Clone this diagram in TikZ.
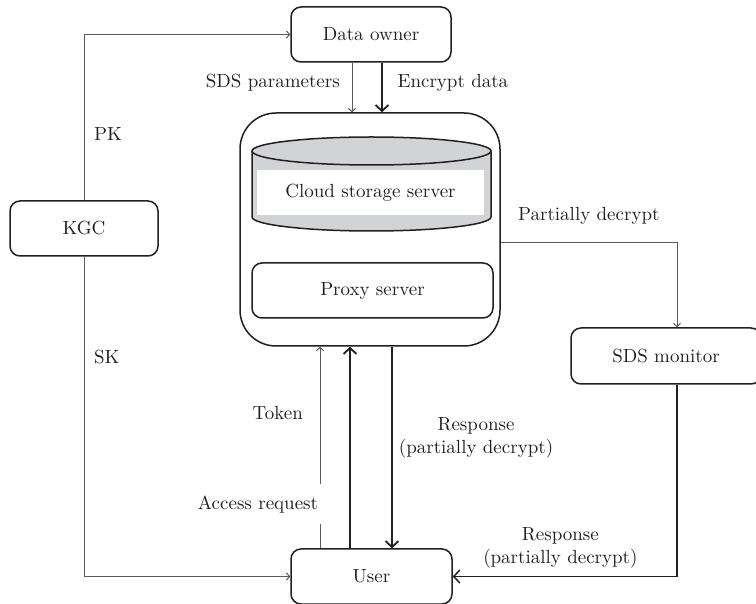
\documentclass[tikz,border=0pt]{standalone}
\usepackage{xcolor}
\usepackage{tikz}
\usetikzlibrary{arrows.meta,positioning}
\definecolor{ink}{HTML}{231F20}
\definecolor{thin}{HTML}{5A5B5D}
\definecolor{drum}{HTML}{D1D3D4}
\tikzset{
  box/.style={draw=ink, line width=0.75pt, rounded corners=5pt, text=ink,
    font=\fontsize{9.5}{11.5}\selectfont, minimum height=27.5pt},
  tline/.style={draw=thin, line width=0.5pt, -{Straight Barb[length=1.6pt,width=3.6pt]}},
  kline/.style={draw=ink, line width=0.9pt, -{Straight Barb[length=3pt,width=6.5pt]}},
  lbl/.style={text=ink, font=\fontsize{9.5}{11.5}\selectfont},
  mlbl/.style={lbl, align=center, inner sep=1pt}
}

\begin{document}
\begin{tikzpicture}[x=0.5pt,y=-0.5pt]
  \useasboundingbox (0,0) rectangle (756,604);

  \node[box, minimum width=80pt] (owner) at (371,34.5) {Data owner};
  \node[box, minimum width=74pt] (kgc) at (84,228.5) {KGC};
  \node[draw=ink, line width=0.75pt, rounded corners=18pt,
        minimum width=130pt, minimum height=116.5pt] (cloud) at (370,229.5) {};
  \node[box, minimum width=120.5pt] (proxy) at (372.5,290.5) {Proxy server};
  \node[box, minimum width=80.5pt] (user) at (371.5,576.5) {User};
  \node[box, minimum width=95pt, minimum height=28pt] (monitor) at (666,356) {SDS monitor};

  % storage drum
  \fill[drum] (371.5,217) ellipse [x radius=59.75pt, y radius=7pt];
  \fill[drum] (252,151) rectangle (491,217);
  \draw[ink, line width=0.75pt] (252,151) -- (252,217)
    arc[start angle=180, end angle=360, x radius=59.75pt, y radius=7pt] -- (491,151);
  \draw[ink, line width=0.75pt, fill=drum] (371.5,151) ellipse [x radius=59.75pt, y radius=7pt];
  \node[lbl, fill=white, minimum width=113.5pt, minimum height=22.5pt] (storage) at (370.5,192.5) {Cloud storage server};

  % keys
  \draw[tline] (kgc.north) |- node[lbl, right=1.5pt, pos=0.2] {PK} (owner.west);
  \draw[tline] (kgc.south) |- node[lbl, right=1.5pt, pos=0.157] {SK} (user.west);

  % owner to cloud
  \draw[tline] ([xshift=-9.5pt]owner.south) -- node[lbl, left=2.5pt, pos=0.4] {SDS parameters}
    ([xshift=-9.5pt]owner.south |- cloud.north);
  \draw[kline] ([xshift=5.5pt]owner.south) -- node[lbl, right=4pt, pos=0.4] {Encrypt data}
    ([xshift=5.5pt]owner.south |- cloud.north);

  % cloud to monitor to user
  \draw[tline] ([yshift=-6.75pt]cloud.east) -| node[lbl, above=5.5pt, pos=0.25] {Partially decrypt}
    ([xshift=5.5pt]monitor.north);
  \draw[kline, line width=0.75pt] ([xshift=5.5pt]monitor.south) |- node[mlbl, above=3pt, pos=0.76]
    {Response\\(partially decrypt)} (user.east);

  % user and proxy
  \draw[tline] ([xshift=-25.75pt]user.north) -- node[lbl, left=5pt, pos=0.67] {Token}
    ([xshift=-25.75pt]user.north |- cloud.south);
  \node[lbl, fill=white, anchor=east, inner sep=2pt, minimum height=20pt] (access)
    at ([xshift=-24.5pt,yshift=22pt]user.north) {Access request};
  \draw[kline] ([xshift=-10.75pt]user.north) -- ([xshift=-10.75pt]user.north |- cloud.south);
  \draw[kline] ([xshift=10.25pt]user.north |- cloud.south) -- node[mlbl, right=2pt, pos=0.45]
    {Response\\(partially decrypt)} ([xshift=10.25pt]user.north);
\end{tikzpicture}
\end{document}
